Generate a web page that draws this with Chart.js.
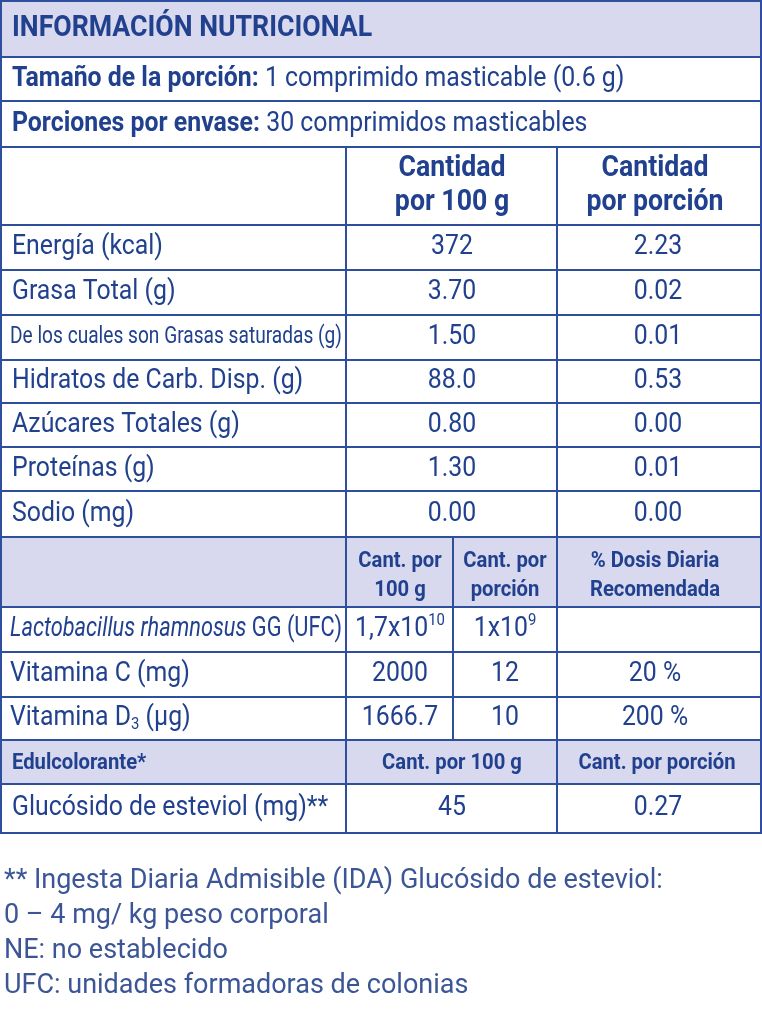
<!DOCTYPE html>
<html><head><meta charset="utf-8">
<script src="https://cdn.jsdelivr.net/npm/chart.js@4"></script>
<style>html,body{margin:0;padding:0;background:#fff}#wrap{width:762px;height:1024px}</style>
</head><body><div id="wrap"><canvas id="tbl"></canvas></div>
<script>
// table data
const title = 'INFORMACIÓN NUTRICIONAL';
const servingLines = [['Tamaño de la porción:', '1 comprimido masticable (0.6 g)'], ['Porciones por envase:', '30 comprimidos masticables']];
const colHeads = [['Cantidad', 'por 100 g'], ['Cantidad', 'por porción']];
const nutrients = ['Energía (kcal)', 'Grasa Total (g)', 'De los cuales son Grasas saturadas (g)', 'Hidratos de Carb. Disp. (g)', 'Azúcares Totales (g)', 'Proteínas (g)', 'Sodio (mg)'];
const per100 = ['372', '3.70', '1.50', '88.0', '0.80', '1.30', '0.00'];
const perPortion = ['2.23', '0.02', '0.01', '0.53', '0.00', '0.01', '0.00'];
const vitHeads = [['Cant. por', '100 g'], ['Cant. por', 'porción'], ['% Dosis Diaria', 'Recomendada']];
const vitNames = ['lacto', 'Vitamina C (mg)', 'vitd'];
const vit100 = ['1,7x10^10', '2000', '1666.7'];
const vitPortion = ['1x10^9', '12', '10'];
const vitDose = ['', '20 %', '200 %'];
const sweetHeads = ['Edulcolorante*', 'Cant. por 100 g', 'Cant. por porción'];
const sweetNames = ['Glucósido de esteviol (mg)**'];
const sweet100 = ['45'];
const sweetPortion = ['0.27'];
const footnotes = ['** Ingesta Diaria Admisible (IDA) Glucósido de esteviol:', '0 – 4 mg/ kg peso corporal', 'NE: no establecido', 'UFC: unidades formadoras de colonias'];

const BLUE = '#21418f', LINE = '#2d4f9e', BAND = '#d8d8ef', FOOT = '#3b5596';
const CX = 0.92; // horizontal condensing

function runsFor(s) {
  if (s === 'lacto') return [{t: 'Lactobacillus rhamnosus', it: true}, {t: ' GG (UFC)'}];
  if (s === 'vitd') return [{t: 'Vitamina D'}, {t: '3', sub: true}, {t: ' (µg)'}];
  if (s.includes('^')) { const p = s.split('^'); return [{t: p[0]}, {t: p[1], sup: true}]; }
  return [{t: s}];
}

const tablePlugin = {
  id: 'tablePlugin',
  afterDraw(chart) {
    const ctx = chart.ctx, xs = chart.scales.x, ys = chart.scales.y;
    const X = v => xs.getPixelForValue(v), Y = v => ys.getPixelForValue(v);
    const fontOf = (size, r, bold) => (r.it ? 'italic ' : '') + (bold ? 'bold ' : '') + size + 'px Roboto';
    function runs(rs, x, y, size, align, bold, color, maxW, cxf) {
      ctx.save();
      ctx.fillStyle = color || BLUE;
      ctx.textBaseline = 'middle';
      let w = 0;
      rs.forEach(r => { const s = r.sup || r.sub ? size * 0.6 : size; ctx.font = fontOf(s, r, bold); w += ctx.measureText(r.t).width; });
      let k = cxf || CX;
      if (maxW && w * k > maxW) k = maxW / w;
      w *= k;
      let sx = align === 'center' ? x - w / 2 : align === 'right' ? x - w : x;
      ctx.translate(sx, y); ctx.scale(k, 1);
      let cx = 0;
      rs.forEach(r => {
        const s = r.sup || r.sub ? size * 0.6 : size;
        ctx.font = fontOf(s, r, bold);
        const dy = r.sup ? -size * 0.3 : r.sub ? size * 0.25 : 0;
        ctx.fillText(r.t, cx, dy);
        cx += ctx.measureText(r.t).width;
      });
      ctx.restore();
      return w;
    }
    const band = (y0, y1) => { ctx.fillStyle = BAND; ctx.fillRect(X(0), Y(y0), X(762) - X(0), Y(y1) - Y(y0)); };
    const hl = (y, x0 = 0, x1 = 762) => { ctx.beginPath(); ctx.moveTo(X(x0), Y(y)); ctx.lineTo(X(x1), Y(y)); ctx.stroke(); };
    const vl = (x, y0, y1) => { ctx.beginPath(); ctx.moveTo(X(x), Y(y0)); ctx.lineTo(X(x), Y(y1)); ctx.stroke(); };

    band(1, 57); band(537, 607); band(740, 784);
    ctx.strokeStyle = LINE; ctx.lineWidth = 2;
    const rowY = [225, 270, 315, 360, 403, 447, 491, 537];
    [1, 57, 101, 147, ...rowY, 607, 652, 697, 740, 784, 833].forEach(y => hl(y));
    vl(1, 1, 833); vl(761, 1, 833);
    vl(346, 147, 833); vl(557, 147, 833);
    vl(453, 537, 740);

    runs([{t: title}], X(12), Y(29), 29, 'left', true, null, 362);
    servingLines.forEach((l, i) => {
      const y = Y(i ? 124 : 79);
      const w = runs([{t: l[0] + ' '}], X(12), y, 27, 'left', true);
      runs([{t: l[1]}], X(12) + w, y, 27, 'left', false);
    });
    colHeads.forEach((h, i) => {
      const cx = X(i ? 655 : 452);
      runs([{t: h[0]}], cx, Y(169), 29, 'center', true);
      runs([{t: h[1]}], cx, Y(203), 29, 'center', true);
    });
    nutrients.forEach((n, i) => {
      const y = Y((rowY[i] + rowY[i + 1]) / 2);
      const small = n.length > 30;
      runs([{t: n}], X(small ? 10 : 12), y, small ? 23 : 27, 'left', false, null, 332);
      runs([{t: per100[i]}], X(452), y, 27, 'center');
      runs([{t: perPortion[i]}], X(658), y, 27, 'center');
    });
    const vx = [400, 505, 655];
    vitHeads.forEach((h, i) => {
      runs([{t: h[0]}], X(vx[i]), Y(561), 22, 'center', true);
      runs([{t: h[1]}], X(vx[i]), Y(590), 22, 'center', true);
    });
    const vy = [607, 652, 697, 740];
    vitNames.forEach((n, i) => {
      const y = Y((vy[i] + vy[i + 1]) / 2);
      runs(runsFor(n), X(10), y, 27, 'left', false, null, 332);
      runs(runsFor(vit100[i]), X(400), y, 27, 'center', false, null, 96);
      runs(runsFor(vitPortion[i]), X(505), y, 27, 'center');
      if (vitDose[i]) runs([{t: vitDose[i]}], X(655), y, 27, 'center');
    });
    runs([{t: sweetHeads[0]}], X(12), Y(763), 22, 'left', true);
    runs([{t: sweetHeads[1]}], X(452), Y(763), 22, 'center', true);
    runs([{t: sweetHeads[2]}], X(657), Y(763), 22, 'center', true);
    sweetNames.forEach((n, i) => {
      const y = Y(808);
      runs([{t: n}], X(12), y, 27, 'left');
      runs([{t: sweet100[i]}], X(452), y, 27, 'center');
      runs([{t: sweetPortion[i]}], X(658), y, 27, 'center');
    });
    footnotes.forEach((f, i) => runs([{t: f}], X(4), Y(881 + i * 35), 27, 'left', false, FOOT, null, 1.0));
  }
};

new Chart(document.getElementById('tbl'), {
  type: 'scatter',
  data: {datasets: [{data: []}]},
  options: {
    responsive: true, maintainAspectRatio: false, animation: false,
    layout: {padding: 0},
    plugins: {legend: {display: false}, tooltip: {enabled: false}},
    scales: {
      x: {type: 'linear', min: 0, max: 762, display: false},
      y: {type: 'linear', min: 0, max: 1024, reverse: true, display: false}
    }
  },
  plugins: [tablePlugin]
});
</script></body></html>
